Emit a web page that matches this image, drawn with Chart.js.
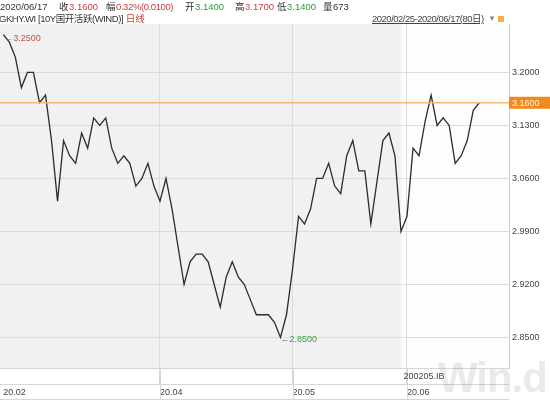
<!DOCTYPE html>
<html>
<head>
<meta charset="utf-8">
<script src="https://cdn.jsdelivr.net/npm/chart.js@4/dist/chart.umd.min.js"></script>
<style>
  html, body { margin:0; padding:0; background:#fff; }
  #wrap { position:relative; width:550px; height:400px; overflow:hidden; font-family:"Liberation Sans","Noto Sans CJK SC",sans-serif; font-size:9.5px; color:#333; }
  canvas { position:absolute; left:0; top:0; }
  .t { position:absolute; white-space:nowrap; line-height:12px; }
  .r { color:#c9403d; }
  .g { color:#2f9a3a; }
  .u { text-decoration:underline; color:#444; letter-spacing:-0.5px; }
  #wm { position:absolute; left:438px; top:357px; font-size:42px; font-weight:bold; line-height:1; color:rgba(140,140,140,0.18); font-family:"Liberation Sans",sans-serif; letter-spacing:-1px; }
</style>
</head>
<body>
<div id="wrap">
  <canvas id="c" width="550" height="400"></canvas>
  <div id="wm">Win.d</div>
  <span class="t" style="left:0;top:1px">2020/06/17</span>
  <span class="t" style="left:59px;top:1px">收</span><span class="t r" style="left:69px;top:1px">3.1600</span>
  <span class="t" style="left:106px;top:1px">幅</span><span class="t r" style="left:116px;top:1px;letter-spacing:-0.4px">0.32%(0.0100)</span>
  <span class="t" style="left:185px;top:1px">开</span><span class="t g" style="left:195px;top:1px">3.1400</span>
  <span class="t" style="left:235px;top:1px">高</span><span class="t r" style="left:245px;top:1px">3.1700</span>
  <span class="t" style="left:277px;top:1px">低</span><span class="t g" style="left:287px;top:1px">3.1400</span>
  <span class="t" style="left:323px;top:1px">量</span><span class="t" style="left:333px;top:1px">673</span>
  <span class="t" style="left:-1px;top:13px"><span style="letter-spacing:-0.45px">GKHY.WI [10Y国开活跃(WIND)]</span>&nbsp;<span class="r">日线</span></span>
  <span class="t u" style="left:372px;top:13px">2020/02/25-2020/06/17(80日)</span>
  <span class="t" style="left:488px;top:13px;color:#888;font-size:8px">▼</span>
  <span class="t" style="left:498px;top:16px;width:6px;height:6px;background:#f0b43c;line-height:6px"></span>
</div>
<script>
// ---- data ----
const yields = [
  3.25, 3.24, 3.22, 3.18, 3.20, 3.20, 3.16, 3.17, 3.11, 3.03,
  3.11, 3.09, 3.08, 3.12, 3.10, 3.14, 3.13, 3.14, 3.10, 3.08,
  3.09, 3.08, 3.05, 3.06, 3.08, 3.05, 3.03, 3.06, 3.02, 2.97,
  2.92, 2.95, 2.96, 2.96, 2.95, 2.92, 2.89, 2.93, 2.95, 2.93,
  2.92, 2.90, 2.88, 2.88, 2.88, 2.87, 2.85, 2.88, 2.94, 3.01,
  3.00, 3.02, 3.06, 3.06, 3.08, 3.05, 3.04, 3.09, 3.11, 3.07,
  3.07, 3.00, 3.055, 3.11, 3.12, 3.09, 2.99, 3.01, 3.10, 3.09,
  3.135, 3.17, 3.13, 3.14, 3.13, 3.08, 3.09, 3.11, 3.15, 3.16
];
const monthStartIdx = [0, 26, 48, 67];
const monthLabels = ['20.02', '20.04', '20.05', '20.06'];
const yTicks = [2.85, 2.92, 2.99, 3.06, 3.13, 3.20];
const bondSwitchIdx = 66;
const bondCode = '200205.IB';
const lastValue = yields[yields.length - 1];

const points = yields.map((v, i) => ({ x: i, y: v }));

const FONT = '"Liberation Sans","Noto Sans CJK SC",sans-serif';
Chart.defaults.font.family = FONT;
Chart.defaults.font.size = 9;
Chart.defaults.color = '#444';

const decor = {
  id: 'decor',
  beforeDraw(chart) {
    const { ctx, chartArea: a, scales: { x } } = chart;
    const xs = x.getPixelForValue(bondSwitchIdx);
    ctx.save();
    ctx.fillStyle = '#f1f1f1';
    ctx.fillRect(a.left, a.top, xs - a.left, a.bottom - a.top);
    ctx.fillStyle = '#fdfdfd';
    ctx.fillRect(xs, a.top, a.right - xs, a.bottom - a.top);
    ctx.restore();
  },
  afterDraw(chart) {
    const { ctx, chartArea: a, scales: { x, y } } = chart;
    ctx.save();
    ctx.strokeStyle = '#d6d6d6';
    ctx.lineWidth = 1;
    ctx.beginPath();
    ctx.moveTo(0, a.bottom + 0.5); ctx.lineTo(a.right, a.bottom + 0.5);
    ctx.moveTo(0, a.bottom + 16.5); ctx.lineTo(a.right, a.bottom + 16.5);
    ctx.moveTo(0, 399.5); ctx.lineTo(a.right, 399.5);
    monthStartIdx.slice(1).forEach(i => {
      const px = Math.round(x.getPixelForValue(i)) + 0.5;
      ctx.moveTo(px, a.bottom); ctx.lineTo(px, 400);
    });
    ctx.stroke();
    ctx.fillStyle = '#444';
    ctx.font = '9px ' + FONT;
    ctx.textBaseline = 'middle';
    ctx.fillText(bondCode, x.getPixelForValue(bondSwitchIdx + 0.4), a.bottom + 8.5);
    const yl = y.getPixelForValue(lastValue);
    ctx.strokeStyle = '#f3b77a';
    ctx.lineWidth = 1.5;
    ctx.beginPath();
    ctx.moveTo(a.left, yl); ctx.lineTo(a.right, yl);
    ctx.stroke();
    ctx.fillStyle = '#f08a1c';
    ctx.fillRect(a.right, yl - 6, 550 - a.right, 12);
    ctx.fillStyle = '#fff4e0';
    ctx.fillText(lastValue.toFixed(4), a.right + 3, yl + 0.5);
    let iMax = 0, iMin = 0;
    yields.forEach((v, i) => { if (v > yields[iMax]) iMax = i; if (v < yields[iMin]) iMin = i; });
    const mx = x.getPixelForValue(iMax), my = y.getPixelForValue(yields[iMax]);
    ctx.fillStyle = '#c9504d';
    ctx.fillText('\u2190' + yields[iMax].toFixed(4), mx + 1, my + 4);
    const nx = x.getPixelForValue(iMin), ny = y.getPixelForValue(yields[iMin]);
    ctx.fillStyle = '#3d9e47';
    ctx.fillText('\u2190' + yields[iMin].toFixed(4), nx, ny + 2);
    ctx.restore();
  }
};

new Chart(document.getElementById('c'), {
  type: 'line',
  data: {
    datasets: [{
      data: points,
      borderColor: '#2b2b2b',
      borderWidth: 1.3,
      pointRadius: 0,
      tension: 0,
      fill: false
    }]
  },
  options: {
    responsive: false,
    devicePixelRatio: 1,
    animation: false,
    events: [],
    layout: { padding: { top: 24, left: 0, right: 0, bottom: 0 } },
    plugins: { legend: { display: false }, tooltip: { enabled: false } },
    scales: {
      x: {
        type: 'linear',
        min: -0.55,
        max: 83.93,
        afterBuildTicks(s) { s.ticks = monthStartIdx.map(v => ({ value: v })); },
        afterFit(s) { s.height = 32; },
        grid: {
          color: c => (c.tick && c.tick.value === 0) ? 'rgba(0,0,0,0)' : '#dcdcdc',
          tickLength: 16,
          tickColor: c => (c.tick && c.tick.value === 0) ? 'rgba(0,0,0,0)' : '#d6d6d6'
        },
        border: { display: false },
        ticks: {
          maxRotation: 0,
          autoSkip: false,
          align: 'start',
          padding: 3,
          color: '#444',
          font: { size: 9 },
          callback: (v) => { const k = monthStartIdx.indexOf(v); return k >= 0 ? monthLabels[k] : ''; }
        }
      },
      y: {
        position: 'right',
        min: 2.8097,
        max: 3.264,
        afterBuildTicks(s) { s.ticks = yTicks.map(v => ({ value: v })); },
        afterFit(s) { s.width = 41; },
        grid: { color: '#dcdcdc', drawTicks: false },
        border: { display: true, color: '#cfcfcf' },
        ticks: {
          padding: 3,
          color: '#444',
          font: { size: 9 },
          callback: v => Number(v).toFixed(4)
        }
      }
    }
  },
  plugins: [decor]
});
</script>
</body>
</html>
